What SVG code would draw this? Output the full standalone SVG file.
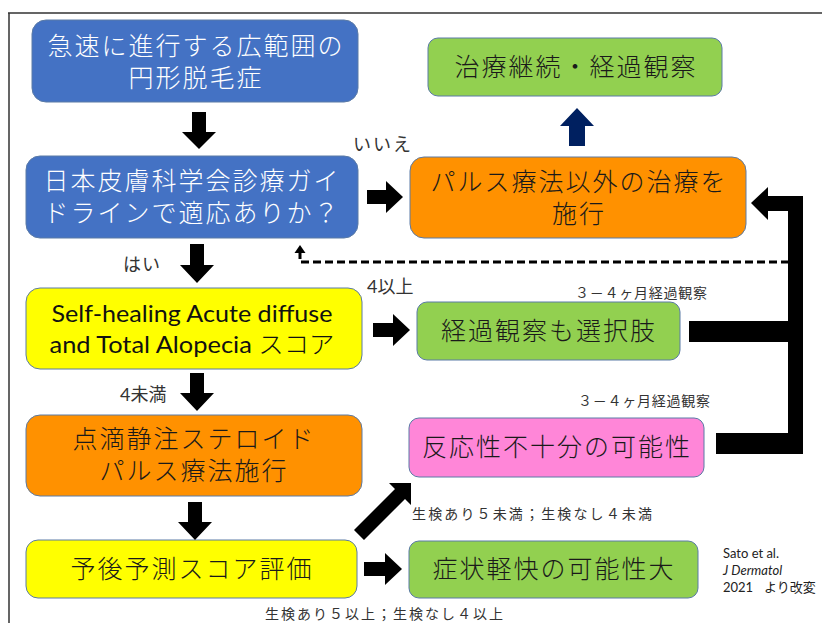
<svg xmlns="http://www.w3.org/2000/svg" width="822" height="623" viewBox="0 0 822 623">
<style>
.box{stroke:#5a7aa6;stroke-width:1}
.blue{fill:#4472C4}
.green{fill:#92D050}
.orange{fill:#FF9100}
.yellow{fill:#FFFF00}
.pink{fill:#FF86D8}
.t{font-family:"Noto Sans CJK JP","Noto Sans",sans-serif;font-size:25px;font-weight:300;letter-spacing:2px;text-anchor:middle;fill:#1a1a1a}
.w{fill:#ffffff}
.s{font-family:"Noto Sans CJK JP","Noto Sans",sans-serif;font-size:14px;fill:#333}
.l{font-family:"Noto Sans CJK JP","Noto Sans",sans-serif;font-size:18px;fill:#333}
.en{font-family:Lato,"Open Sans",sans-serif;font-size:24px;text-anchor:middle;fill:#111}
.ref{font-family:Lato,"Open Sans","Noto Sans CJK JP",sans-serif;font-size:13px;fill:#222}
.arr{fill:#000}
</style>
<rect width="822" height="623" fill="#fff"/>
<path d="M8 13H822M9 13V623" fill="none" stroke="#333" stroke-width="1.5"/>

<g id="n1"><rect class="box blue" x="32" y="20" width="326" height="82" rx="14"/>
<text class="t w" x="196" y="55">急速に進行する広範囲の</text>
<text class="t w" x="196" y="87">円形脱毛症</text></g>

<g id="n2"><rect class="box green" x="428" y="38" width="294" height="58" rx="10"/>
<text class="t" x="576" y="76">治療継続・経過観察</text></g>

<g id="n3"><rect class="box blue" x="26" y="156" width="332" height="82" rx="14"/>
<text class="t w" x="192" y="190">日本皮膚科学会診療ガイ</text>
<text class="t w" x="192" y="222">ドラインで適応ありか？</text></g>

<g id="n4"><rect class="box orange" x="410" y="157" width="336" height="81" rx="14"/>
<text class="t" x="579" y="191">パルス療法以外の治療を</text>
<text class="t" x="579" y="223">施行</text></g>

<g id="n5"><rect class="box yellow" x="26" y="288" width="336" height="81" rx="14"/>
<text class="en" x="192" y="322" textLength="281" lengthAdjust="spacingAndGlyphs">Self-healing Acute diffuse</text>
<text class="en" x="192" y="353" textLength="285" lengthAdjust="spacingAndGlyphs">and Total Alopecia <tspan style="font-family:'Noto Sans CJK JP',sans-serif;font-weight:300">スコア</tspan></text></g>

<g id="n6"><rect class="box green" x="417" y="302" width="263" height="58" rx="10"/>
<text class="t" x="549" y="340">経過観察も選択肢</text></g>

<g id="n7"><rect class="box orange" x="26" y="415" width="336" height="81" rx="14"/>
<text class="t" x="194" y="448">点滴静注ステロイド</text>
<text class="t" x="194" y="480">パルス療法施行</text></g>

<g id="n8"><rect class="box pink" x="409" y="418" width="295" height="59" rx="10"/>
<text class="t" x="557" y="456">反応性不十分の可能性</text></g>

<g id="n9"><rect class="box yellow" x="26" y="540" width="331" height="58" rx="12"/>
<text class="t" x="192" y="578">予後予測スコア評価</text></g>

<g id="n10"><rect class="box green" x="409" y="541" width="289" height="57" rx="10"/>
<text class="t" x="554" y="578">症状軽快の可能性大</text></g>

<g id="connectors">
<polygon class="arr" points="192,112 206,112 206,132 216,132 199,149 182,132 192,132"/>
<polygon fill="#002060" points="577,108 594,126 585,126 585,146 569,146 569,126 560,126"/>
<polygon class="arr" points="367,190 386,190 386,181 403,197 386,213 386,204 367,204"/>
<polygon class="arr" points="190,244 204,244 204,265 214,265 197,283 180,265 190,265"/>
<polygon class="arr" points="373,323 393,323 393,314 410,330 393,346 393,337 373,337"/>
<polygon class="arr" points="190,373 204,373 204,393 214,393 197,411 180,393 190,393"/>
<polygon class="arr" points="188,502 202,502 202,522 212,522 195,540 178,522 188,522"/>
<polygon class="arr" points="411,483 411,505 405,499 364,540 354,530 395,489 389,483"/>
<polygon class="arr" points="364,562 385,562 385,553 402,569 385,585 385,576 364,576"/>
<rect class="arr" x="689" y="321" width="114" height="21"/>
<rect class="arr" x="716" y="433" width="87" height="21"/>
<rect class="arr" x="788" y="196" width="15" height="258"/>
<rect class="arr" x="767" y="196" width="36" height="15"/>
<polygon class="arr" points="751,203 768,187 768,220"/>
<path d="M789 262H300V252" fill="none" stroke="#000" stroke-width="3" stroke-dasharray="8 4"/>
<polygon class="arr" points="300,245 294.5,253 305.5,253"/>
</g>

<g id="labels">
<text class="l" x="353" y="151" letter-spacing="2">いいえ</text>
<text class="l" x="123" y="271" letter-spacing="1">はい</text>
<text class="l" x="367" y="293"><tspan style="font-family:Lato,sans-serif">4</tspan>以上</text>
<text class="l" x="120" y="401"><tspan style="font-family:Lato,sans-serif">4</tspan>未満</text>
<text class="s" x="575" y="298" textLength="132">３－４ヶ月経過観察</text>
<text class="s" x="578" y="406" textLength="132">３－４ヶ月経過観察</text>
<text class="s" x="412" y="519" textLength="240">生検あり５未満；生検なし４未満</text>
<text class="s" x="265" y="619" textLength="238">生検あり５以上；生検なし４以上</text>
<text class="ref" x="723" y="558" textLength="56">Sato et al.</text>
<text class="ref" x="723" y="575" font-style="italic">J Dermatol</text>
<text class="ref" x="723" y="592">2021<tspan x="764" style="font-family:'Noto Sans CJK JP',sans-serif" font-size="13">より改変</tspan></text>
</g>
</svg>
